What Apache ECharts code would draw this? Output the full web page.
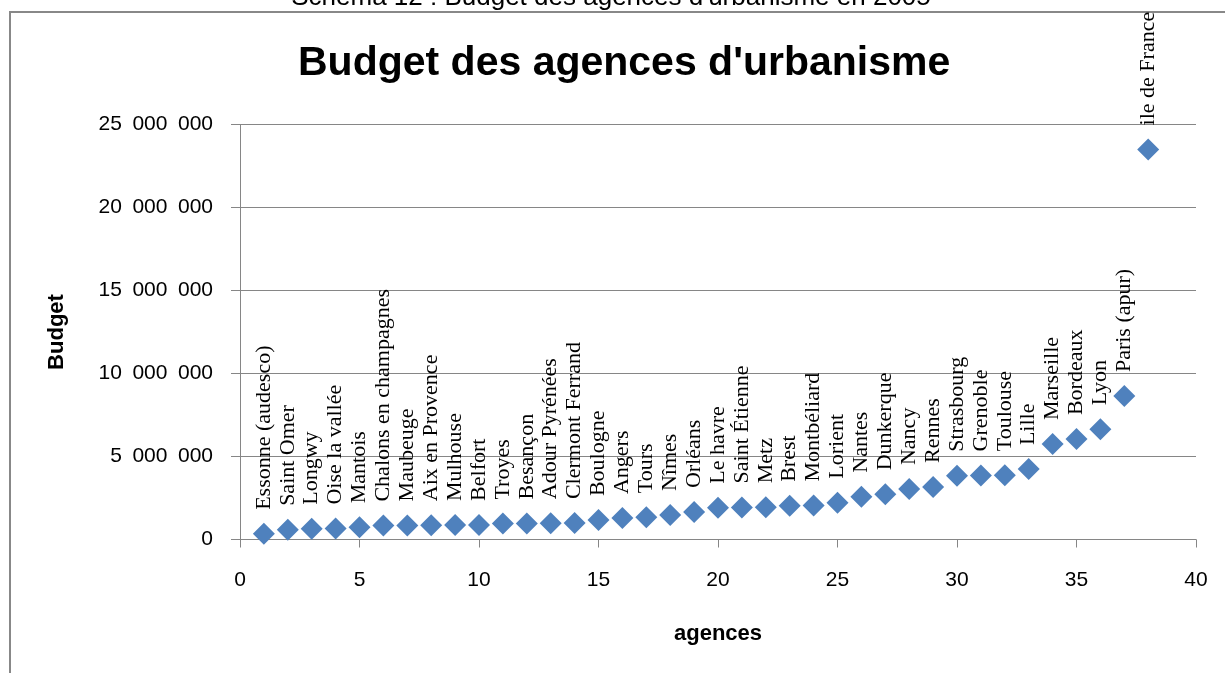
<!DOCTYPE html>
<html>
<head>
<meta charset="utf-8">
<title>Budget des agences d'urbanisme</title>
<script src="https://cdn.jsdelivr.net/npm/echarts@6/dist/echarts.min.js"></script>
<style>
    html, body { margin: 0; padding: 0; background: #fff; }
    #chart { width: 1225px; height: 673px; }
</style>
</head>
<body>
<div id="chart"></div>
<script>
    // agences, classees par budget croissant
    let agences = [
        'Essonne (audesco)', 'Saint Omer', 'Longwy', 'Oise la vallée', 'Mantois',
        'Chalons en champagnes', 'Maubeuge', 'Aix en Provence', 'Mulhouse', 'Belfort',
        'Troyes', 'Besançon', 'Adour Pyrénées', 'Clermont Ferrand', 'Boulogne',
        'Angers', 'Tours', 'Nîmes', 'Orléans', 'Le havre',
        'Saint Étienne', 'Metz', 'Brest', 'Montbéliard', 'Lorient',
        'Nantes', 'Dunkerque', 'Nancy', 'Rennes', 'Strasbourg',
        'Grenoble', 'Toulouse', 'Lille', 'Marseille', 'Bordeaux',
        'Lyon', 'Paris (apur)', 'ile de France'
    ];
    // budget en euros
    let budgets = [
        340000, 580000, 650000, 660000, 740000,
        840000, 850000, 860000, 870000, 880000,
        960000, 970000, 980000, 990000, 1170000,
        1290000, 1340000, 1470000, 1650000, 1910000,
        1930000, 1940000, 2030000, 2050000, 2220000,
        2580000, 2720000, 3040000, 3160000, 3840000,
        3860000, 3870000, 4240000, 5750000, 6050000,
        6640000, 8640000, 23500000
    ];
    let yTicks = [0, 5000000, 10000000, 15000000, 20000000, 25000000];

    let points = [];
    for (let i = 0; i < agences.length; i++) {
        points.push({
            name: agences[i],
            value: [i + 1, budgets[i]]
        });
    }

    function formatNombre(v) {
        // separateur de milliers "a la francaise"
        return String(v).replace(/\B(?=(\d{3})+(?!\d))/g, '\u2002');
    }

    let myChart = echarts.init(document.getElementById('chart'), null, {renderer: 'canvas'});
    myChart.setOption({
        backgroundColor: '#fff',
        animation: false,
        title: {
            text: "Budget des agences d'urbanisme",
            left: 298,
            top: 43,
            padding: 0,
            textStyle: {
                fontFamily: 'Liberation Sans',
                fontWeight: 'bold',
                fontSize: 41,
                lineHeight: 41,
                color: '#000'
            }
        },
        graphic: [
            {
                type: 'rect',
                shape: {x: 10, y: 12, width: 1400, height: 800},
                style: {fill: 'none', stroke: '#888', lineWidth: 2},
                silent: true
            },
            {
                // legende du document, coupee en haut
                type: 'text',
                x: 611,
                y: 11,
                style: {
                    text: "Schéma 12 : Budget des agences d'urbanisme en 2005",
                    font: '26px "Liberation Sans"',
                    fill: '#000',
                    align: 'center',
                    verticalAlign: 'bottom'
                },
                silent: true
            }
        ],
        grid: {
            left: 240,
            right: 29,
            top: 124.5,
            bottom: 133.5
        },
        xAxis: {
            type: 'value',
            min: 0,
            max: 40,
            interval: 5,
            name: 'agences',
            nameLocation: 'middle',
            nameGap: 83,
            nameTextStyle: {
                fontFamily: 'Liberation Sans',
                fontWeight: 'bold',
                fontSize: 22,
                color: '#000'
            },
            axisLine: {show: true, lineStyle: {color: '#868686', width: 1}},
            axisTick: {show: true, inside: false, length: 8, lineStyle: {color: '#868686'}},
            axisLabel: {
                margin: 30,
                fontFamily: 'Liberation Sans',
                fontSize: 21,
                color: '#000'
            },
            splitLine: {show: false}
        },
        yAxis: {
            type: 'value',
            min: 0,
            max: yTicks[yTicks.length - 1],
            interval: yTicks[1] - yTicks[0],
            name: 'Budget',
            nameLocation: 'middle',
            nameGap: 172,
            nameTextStyle: {
                fontFamily: 'Liberation Sans',
                fontWeight: 'bold',
                fontSize: 22,
                color: '#000'
            },
            axisLine: {show: true, lineStyle: {color: '#868686', width: 1}},
            axisTick: {show: true, inside: false, length: 9, lineStyle: {color: '#868686'}},
            axisLabel: {
                margin: 27,
                fontFamily: 'Liberation Sans',
                fontSize: 21,
                color: '#000',
                formatter: formatNombre
            },
            splitLine: {show: true, lineStyle: {color: '#868686', width: 1}}
        },
        series: [
            {
                name: 'Budget',
                type: 'scatter',
                symbol: 'diamond',
                symbolSize: 22,
                itemStyle: {color: '#4F81BD', opacity: 1},
                data: points,
                label: {
                    show: true,
                    position: 'top',
                    distance: 13,
                    rotate: 90,
                    align: 'left',
                    verticalAlign: 'middle',
                    formatter: '{b}',
                    fontFamily: 'Liberation Serif',
                    fontSize: 22,
                    color: '#000'
                }
            }
        ]
    });
</script>
</body>
</html>
